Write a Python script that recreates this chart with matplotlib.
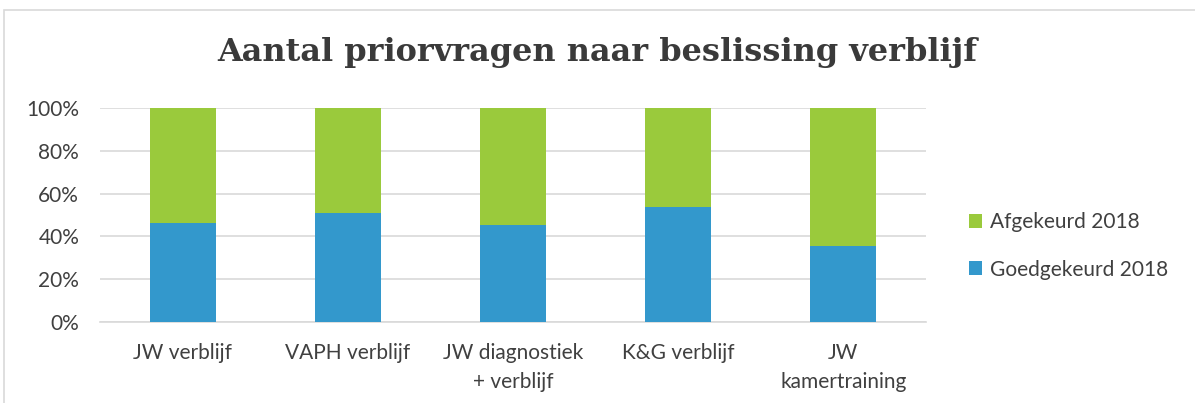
import matplotlib.pyplot as plt
from matplotlib.patches import Rectangle

categories = ["JW verblijf", "VAPH verblijf", "JW diagnostiek\n+ verblijf", "K&G verblijf", "JW\nkamertraining"]
goedgekeurd = [46.3, 51.0, 45.3, 53.9, 35.6]
afgekeurd = [100 - v for v in goedgekeurd]

blue = "#3398cc"
green = "#9aca3c"
txt = "#404040"

plt.rcParams['font.family'] = ['Lato', 'DejaVu Sans']

fig = plt.figure(figsize=(11.95, 4.03), dpi=100)
ax = fig.add_axes([100 / 1195, 1 - 322 / 403, 826 / 1195, 214 / 403])

x = range(len(categories))
ax.bar(x, goedgekeurd, width=0.4, color=blue, label="Goedgekeurd 2018", zorder=3)
ax.bar(x, afgekeurd, width=0.4, bottom=goedgekeurd, color=green, label="Afgekeurd 2018", zorder=3)

ax.set_xlim(-0.5, 4.5)
ax.set_ylim(0, 100)
ax.set_yticks([0, 20, 40, 60, 80, 100])
ax.set_yticklabels([f"{v}%" for v in [0, 20, 40, 60, 80, 100]])
ax.set_xticks(list(x))
ax.set_xticklabels(categories, linespacing=1.6)
ax.grid(axis='y', color="#d9d9d9", linewidth=1.2, zorder=0)
for s in ["top", "right", "left"]:
    ax.spines[s].set_visible(False)
ax.spines["bottom"].set_color("#d9d9d9")
ax.spines["bottom"].set_linewidth(1.2)
ax.tick_params(axis='both', length=0, labelsize=15, labelcolor=txt)
ax.tick_params(axis='y', pad=15)
ax.tick_params(axis='x', pad=15)

handles, labels = ax.get_legend_handles_labels()
fig.legend(handles[::-1], labels[::-1], loc='center left', bbox_to_anchor=(950 / 1195, 1 - 246 / 403),
           frameon=False, fontsize=15, labelcolor=txt, handlelength=0.65, handleheight=0.65,
           handletextpad=0.35, labelspacing=1.3)

fig.text(0.5, 1 - 52 / 403, "Aantal priorvragen naar beslissing verblijf", ha='center', va='center',
         fontsize=23, fontweight='bold', family='DejaVu Serif', color="#3a3a3a")

fig.patches.append(Rectangle((4 / 1195, -0.05), 1.2, 1 - 10 / 403 + 0.05, transform=fig.transFigure,
                             fill=False, edgecolor="#d9d9d9", linewidth=1.2))

fig.savefig("out.png", dpi=100)
